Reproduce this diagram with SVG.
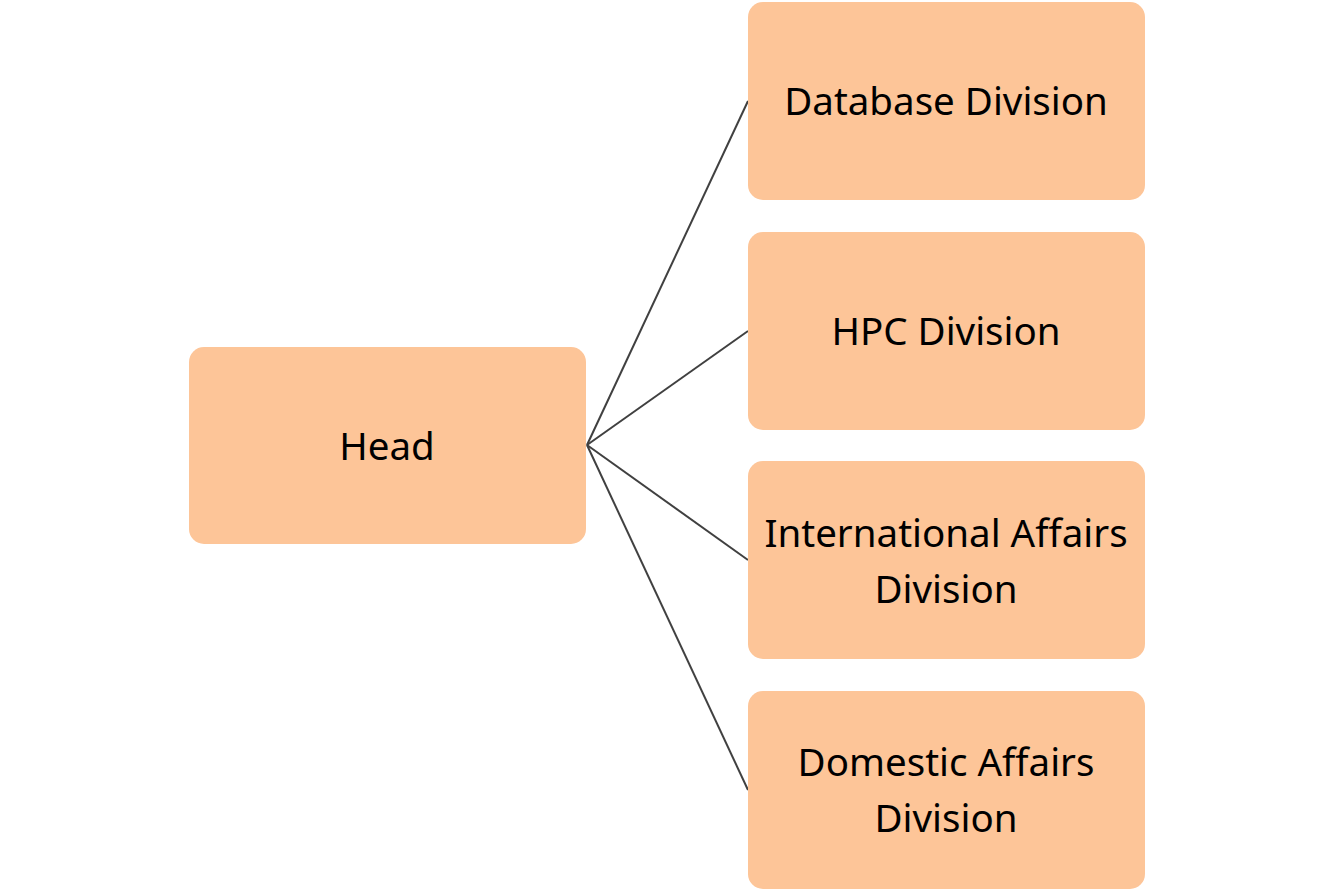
<svg xmlns="http://www.w3.org/2000/svg" width="1334" height="891" viewBox="0 0 1334 891">
<style>
.box{fill:#fdc598}
.lbl{font-family:"Noto Sans","DejaVu Sans",sans-serif;font-size:38.5px;fill:#000;text-anchor:middle}
.conn{stroke:#404040;stroke-width:2;fill:none}
</style>
<rect width="1334" height="891" fill="#fff"/>
<g id="connectors">
<line class="conn" x1="587" y1="445" x2="748" y2="101"/>
<line class="conn" x1="587" y1="445" x2="748" y2="331"/>
<line class="conn" x1="587" y1="445" x2="748" y2="560"/>
<line class="conn" x1="587" y1="445" x2="748" y2="790"/>
</g>
<g id="head"><rect class="box" x="189" y="347" width="397" height="197" rx="15"/><text class="lbl" x="387" y="460">Head</text></g>
<g id="database"><rect class="box" x="748" y="2" width="397" height="198" rx="15"/><text class="lbl" x="946" y="115">Database Division</text></g>
<g id="hpc"><rect class="box" x="748" y="232" width="397" height="198" rx="15"/><text class="lbl" x="946" y="345">HPC Division</text></g>
<g id="international"><rect class="box" x="748" y="461" width="397" height="198" rx="15"/><text class="lbl" x="946" y="547">International Affairs</text><text class="lbl" x="946" y="603">Division</text></g>
<g id="domestic"><rect class="box" x="748" y="691" width="397" height="198" rx="15"/><text class="lbl" x="946" y="776">Domestic Affairs</text><text class="lbl" x="946" y="832">Division</text></g>
</svg>
